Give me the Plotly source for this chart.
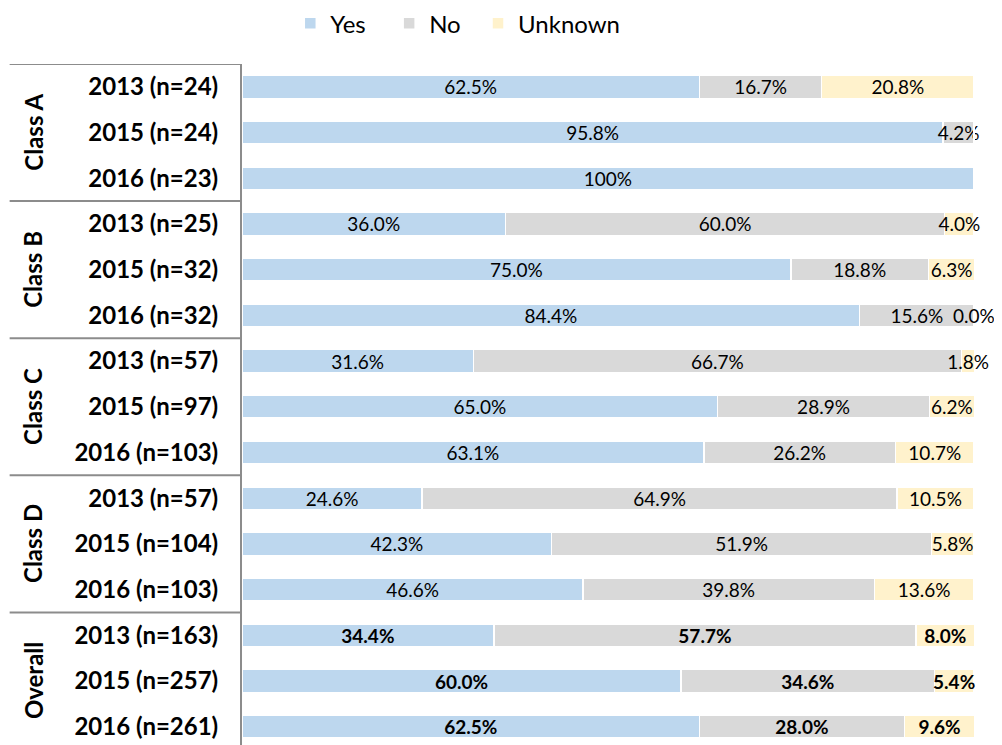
import plotly.graph_objects as go

# data
groups = ['Class A', 'Class B', 'Class C', 'Class D', 'Overall']
row_labels = ['2013 (n=24)', '2015 (n=24)', '2016 (n=23)',
              '2013 (n=25)', '2015 (n=32)', '2016 (n=32)',
              '2013 (n=57)', '2015 (n=97)', '2016 (n=103)',
              '2013 (n=57)', '2015 (n=104)', '2016 (n=103)',
              '2013 (n=163)', '2015 (n=257)', '2016 (n=261)']
yes = [62.5, 95.8, 100, 36.0, 75.0, 84.4, 31.6, 65.0, 63.1, 24.6, 42.3, 46.6, 34.4, 60.0, 62.5]
no = [16.7, 4.2, None, 60.0, 18.8, 15.6, 66.7, 28.9, 26.2, 64.9, 51.9, 39.8, 57.7, 34.6, 28.0]
unknown = [20.8, None, None, 4.0, 6.3, 0.0, 1.8, 6.2, 10.7, 10.5, 5.8, 13.6, 8.0, 5.4, 9.6]

NB = '\u00a0'
series = [('Yes' + NB * 3, yes, '#BDD7EE'), ('No' + NB * 2, no, '#D9D9D9'), ('Unknown', unknown, '#FFF2CC')]
FONT = 'Lato'
LBL = dict(family=FONT, size=19, color='black')

def fmt(v, i):
    if v is None:
        return ''
    s = '100%' if v == 100 else f'{v:.1f}%'
    # overall rows are bold
    return f'<b>{s}</b>' if i >= 12 else s

rows = list(range(len(row_labels)))
fig = go.Figure()
annots = []
base = [0.0] * len(rows)
for name, vals, col in series:
    fig.add_trace(go.Bar(
        y=rows, x=[v or 0 for v in vals], name=name, orientation='h',
        marker=dict(color=col, line=dict(color='white', width=1.5)),
        text=[fmt(v, i) for i, v in enumerate(vals)],
        textposition='inside', insidetextanchor='middle', constraintext='none',
        textangle=0, textfont=LBL, cliponaxis=False, hoverinfo='skip',
    ))
    # zero-width segments get no bar text, so label them by hand
    for i, v in enumerate(vals):
        if v == 0:
            annots.append(dict(x=base[i], y=i, xref='x', yref='y', text=fmt(v, i),
                               showarrow=False, font=LBL))
        base[i] += v or 0

shapes = []
# frame on the left: top line + group separators
for b in [-0.5, 2.5, 5.5, 8.5, 11.5]:
    shapes.append(dict(type='line', xref='paper', yref='y', x0=-0.317, x1=0, y0=b, y1=b,
                       line=dict(color='#8c8c8c', width=2)))

for g, name in enumerate(groups):
    annots.append(dict(xref='paper', yref='y', x=-0.285, y=g * 3 + 1, text=f'<b>{name}</b>',
                       xanchor='center', yanchor='middle',
                       textangle=-90, showarrow=False, font=dict(family=FONT, size=24, color='black')))

# page body has an 8px margin, so the figure is 8px smaller than the window
fig.update_layout(
    width=994, height=737,
    margin=dict(l=234, r=27, t=56, b=0, autoexpand=False),
    barmode='stack', bargap=0.5,
    plot_bgcolor='white', paper_bgcolor='white',
    font=dict(family=FONT, color='black'),
    # rounded rows sum to 100.1, keep them inside the range so their labels show
    xaxis=dict(range=[0, 100.15], visible=False, fixedrange=True),
    yaxis=dict(range=[14.4, -0.5], tickvals=rows, automargin=False,
               ticktext=[f'<b>{t}</b>' for t in row_labels],
               tickfont=dict(family=FONT, size=24, color='black'),
               ticks='', ticklabelstandoff=17,
               showline=True, linecolor='#8c8c8c', linewidth=2,
               showgrid=False, zeroline=False),
    legend=dict(orientation='h', xref='container', x=0.284, xanchor='left',
                yref='paper', y=1.0922, yanchor='top',
                font=dict(family=FONT, size=24, color='black'), itemwidth=30,
                traceorder='normal'),
    shapes=shapes, annotations=annots,
)

fig.write_html('out.html')
